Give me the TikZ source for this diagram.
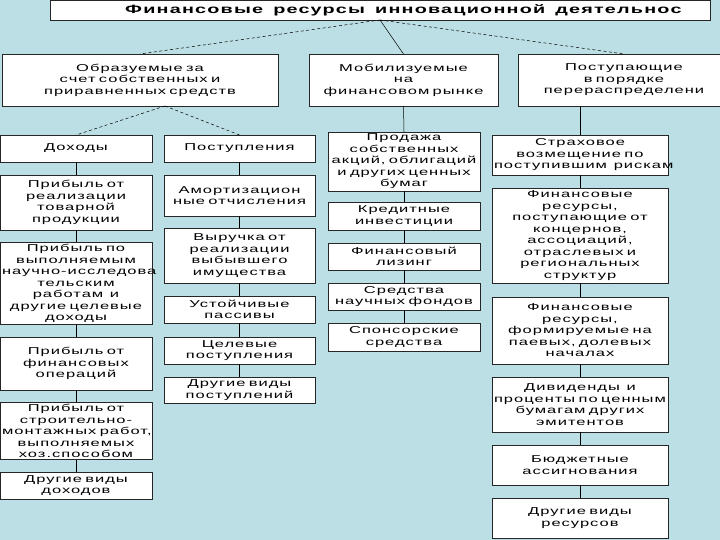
\documentclass[tikz,border=0pt]{standalone}
\usepackage{fontspec}
\setmainfont{Liberation Sans}[FakeStretch=1.65,LetterSpace=10,WordSpace=1.5]
\usepackage{tikz}
\definecolor{bgblue}{RGB}{187,223,228}
\hyphenpenalty=10000
\exhyphenpenalty=10000
\tikzset{
  box/.style={draw=black!85, fill=white, line width=0.6pt,
              align=center, inner sep=2pt, outer sep=0pt,
              font=\fontsize{10}{11.5}\selectfont},
  link/.style={black, line width=0.5pt},
  dashlink/.style={black, line width=0.5pt, dash pattern=on 3pt off 2.5pt}
}

\begin{document}
\begin{tikzpicture}[x=1pt, y=-1pt,
    upper/.style={box, minimum height=52pt},
    colone/.style={box, minimum width=152pt, text width=148pt},
    coltwo/.style={box, minimum width=151pt, text width=147pt},
    colthree/.style={box, minimum width=152pt, text width=148pt},
    colfour/.style={box, minimum width=176pt, text width=172pt}
]
\useasboundingbox (0,0) rectangle (720,540);
\fill[bgblue] (0,0) rectangle (720,540);
% title
\node[box, minimum width=660pt, minimum height=20pt] (fin) at (380,10) {};
\node[anchor=west, inner sep=0pt, font=\fontsize{12}{14}\selectfont\bfseries] (fintext) at (125,10)
    {Финансовые ресурсы инновационной деятельнос};
% sources
\node[upper, minimum width=276pt, text width=272pt] (own) at (140,80)
    {Образуемые за\\ счет собственных и\\ приравненных~средств};
\node[upper, minimum width=189pt, text width=185pt] (mob) at (403.5,80)
    {Мобилизуемые\\ на\\ финансовом~рынке};
\node[upper, minimum width=212pt, text width=208pt] (redis) at (624,80)
    {Поступающие\\ в порядке\\ перераспределени};
% own means: incomes
\node[colone, minimum height=27pt] (inc1) at (76,148.5) {Доходы};
\node[colone, minimum height=55pt] (inc2) at (76,202.5) {Прибыль от\\ реализации\\ товарной\\ продукции};
\node[colone, minimum height=79pt] (inc3) at (76,283.5)
    {Прибыль по\\ выполняемым\\ научно-исследова\\ тельским\\ работам~~и\\ другие~целевые\\ доходы};
\node[colone, minimum height=53pt] (inc4) at (76,363.5) {Прибыль от\\ финансовых\\ операций};
\node[colone, minimum height=54pt] (inc5) at (76,431)
    {Прибыль от\\ строительно-\\ монтажных~работ,\\ выполняемых\\ хоз.способом};
\node[colone, minimum height=27pt] (inc6) at (76,485.5) {Другие виды\\ доходов};
% own means: receipts
\node[coltwo, minimum height=27pt] (rec1) at (239.5,148.5) {Поступления};
\node[coltwo, minimum height=41pt] (rec2) at (239.5,195.5) {Амортизацион\\ ные~отчисления};
\node[coltwo, minimum height=55pt] (rec3) at (239.5,255.5) {Выручка от\\ реализации\\ выбывшего\\ имущества};
\node[coltwo, minimum height=27pt] (rec4) at (239.5,309.5) {Устойчивые\\ пассивы};
\node[coltwo, minimum height=27pt] (rec5) at (239.5,350.5) {Целевые\\ поступления};
\node[coltwo, minimum height=26pt] (rec6) at (239.5,390) {Другие виды\\ поступлений};
% financial market
\node[colthree, minimum height=53pt] (mkt1) at (404,161.5)
    {Продажа\\ собственных\\ акций,~облигаций\\ и~других~ценных\\ бумаг};
\node[colthree, minimum height=28pt] (mkt2) at (404,216) {Кредитные\\ инвестиции};
\node[colthree, minimum height=27pt] (mkt3) at (404,256.5) {Финансовый\\ лизинг};
\node[colthree, minimum height=27pt] (mkt4) at (404,296.5) {Средства\\ научных~фондов};
\node[colthree, minimum height=28pt] (mkt5) at (404,337) {Спонсорские\\ средства};
% redistribution
\node[colfour, minimum height=40pt] (res1) at (580,155)
    {Страховое\\ возмещение~по\\ поступившим~~рискам};
\node[colfour, minimum height=95pt] (res2) at (580,235.5)
    {Финансовые\\ ресурсы,\\ поступающие~от\\ концернов,\\ ассоциаций,\\ отраслевых~и\\ региональных\\ структур};
\node[colfour, minimum height=67pt] (res3) at (580,330.5)
    {Финансовые\\ ресурсы,\\ формируемые~на\\ паевых,~долевых\\ началах};
\node[colfour, minimum height=55pt] (res4) at (580,404.5)
    {Дивиденды~~и\\ проценты~по~ценным\\ бумагам~других\\ эмитентов};
\node[colfour, minimum height=40pt] (res5) at (580,465) {Бюджетные\\ ассигнования};
\node[colfour, minimum height=40pt] (res6) at (580,518) {Другие виды\\ ресурсов};
% links
\draw[dashlink] (fin.south) -- (own.north);
\draw[link] (fin.south) -- (mob.north);
\draw[dashlink] (fin.south) -- (redis.north);
\coordinate (ownfork) at (165,106);
\draw[dashlink] (ownfork) -- (inc1.north);
\draw[dashlink] (ownfork) -- (rec1.north);
\draw[link] (mob.south) -- (mkt1.north);
\draw[link] (res1.north |- redis.south) -- (res1.north);
\foreach \a/\b in {inc1/inc2,inc2/inc3,inc3/inc4,inc4/inc5,inc5/inc6,
                   rec1/rec2,rec2/rec3,rec3/rec4,rec4/rec5,rec5/rec6,
                   mkt1/mkt2,mkt2/mkt3,mkt3/mkt4,mkt4/mkt5,
                   res1/res2,res2/res3,res3/res4,res4/res5,res5/res6}
    \draw[link] (\a.south) -- (\b.north);
\end{tikzpicture}
\end{document}
